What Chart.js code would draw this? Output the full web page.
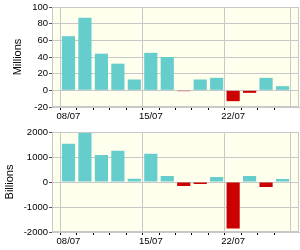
<!DOCTYPE html>
<html>
<head>
<meta charset="utf-8">
<script src="https://cdn.jsdelivr.net/npm/chart.js@4.4.1/dist/chart.umd.min.js"></script>
<style>
  html, body { margin: 0; padding: 0; background: #fff; }
  .box { position: absolute; left: 0; width: 300px; height: 125px; }
</style>
</head>
<body>
<div class="box" style="top:0"><canvas id="topChart" width="300" height="125"></canvas></div>
<div class="box" style="top:125px"><canvas id="bottomChart" width="300" height="125"></canvas></div>
<script>
const dates = ['08/07', '09/07', '10/07', '11/07', '12/07', '15/07', '16/07', '17/07', '18/07', '19/07', '22/07', '23/07', '24/07', '25/07'];
const millions = [65, 87, 44, 32, 13, 45, 40, -1, 13, 15, -13, -3, 15, 5];
const billions = [1530, 1990, 1080, 1250, 130, 1130, 240, -160, -80, 200, -1860, 240, -200, 120];
const majorDates = ['08/07', '15/07', '22/07'];

const POS = '#66CDCD';
const NEG = '#CC0000';

// pad one empty slot on each side, like the original axis
const labels = [''].concat(dates, ['']);
const lastIdx = labels.length - 1;

const plotFrame = {
    id: 'plotFrame',
    beforeDraw(chart) {
        const a = chart.chartArea;
        const ctx = chart.ctx;
        ctx.save();
        ctx.fillStyle = '#FFFFEE';
        ctx.fillRect(a.left, a.top, a.right - a.left, a.bottom - a.top);
        ctx.restore();
    },
    afterDatasetsDraw(chart) {
        const a = chart.chartArea;
        const ctx = chart.ctx;
        ctx.save();
        ctx.strokeStyle = '#C8C8C8';
        ctx.lineWidth = 1;
        ctx.strokeRect(Math.round(a.left) + 0.5, Math.round(a.top) + 0.5, Math.round(a.right - a.left) - 1, Math.round(a.bottom - a.top) - 1);
        ctx.restore();
    }
};

function makeChart(id, values, title, yMin, yMax, step, padLeft) {
    const data = [null].concat(values, [null]);
    return new Chart(document.getElementById(id), {
        type: 'bar',
        data: {
            labels: labels,
            datasets: [{
                data: data,
                backgroundColor: data.map(v => v < 0 ? NEG : POS),
                barPercentage: 0.8,
                categoryPercentage: 1
            }]
        },
        options: {
            responsive: false,
            animation: false,
            layout: { padding: { top: 7, left: padLeft, right: 1, bottom: 0 } },
            plugins: { legend: { display: false }, tooltip: { enabled: false } },
            scales: {
                x: {
                    offset: false,
                    grid: {
                        color: c => (c.index === 0 || c.index === lastIdx || majorDates.includes(labels[c.index])) ? '#C8C8C8' : 'rgba(0,0,0,0)',
                        tickColor: c => (c.index === 0 || c.index === lastIdx) ? 'rgba(0,0,0,0)' : '#000',
                        tickLength: 3
                    },
                    border: { color: '#C8C8C8' },
                    ticks: {
                        autoSkip: false,
                        maxRotation: 0,
                        padding: 1,
                        color: '#000',
                        font: { family: 'Liberation Sans, Arial', size: 9.5 },
                        callback: (v, i) => majorDates.includes(labels[i]) ? labels[i] : ''
                    },
                    afterFit: s => { s.height = 18; }
                },
                y: {
                    min: yMin,
                    max: yMax,
                    grid: { color: '#C8C8C8', tickColor: '#555', tickLength: 3 },
                    border: { color: '#C8C8C8' },
                    ticks: {
                        stepSize: step,
                        padding: 1,
                        color: '#000',
                        font: { family: 'Liberation Sans, Arial', size: 9.5 },
                        callback: v => String(v)
                    },
                    title: {
                        display: true,
                        text: title,
                        color: '#000',
                        padding: 0,
                        font: { family: 'Liberation Sans, Arial', size: 11 }
                    },
                    afterFit: s => { s.width = 52 - padLeft; }
                }
            }
        },
        plugins: [plotFrame]
    });
}

makeChart('topChart', millions, 'Millions', -20, 100, 20, 11);
makeChart('bottomChart', billions, 'Billions', -2000, 2000, 1000, 3);
</script>
</body>
</html>
